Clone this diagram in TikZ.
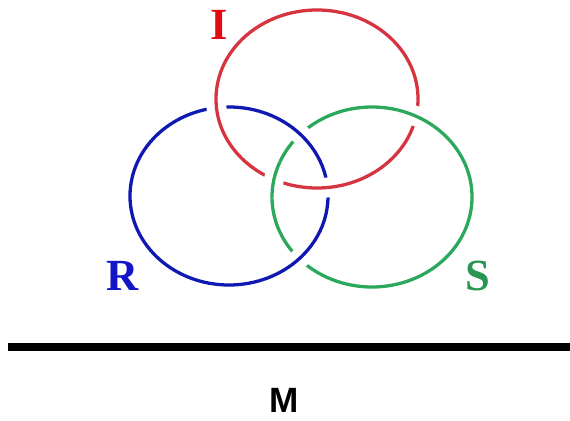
\documentclass[tikz,border=0pt]{standalone}
\usepackage{fontspec}
\setmainfont{Liberation Serif}
\newfontfamily\labelsans{Liberation Sans}
\definecolor{ringred}{RGB}{214,52,64}
\definecolor{ringblue}{RGB}{16,24,178}
\definecolor{ringgreen}{RGB}{44,168,92}
\definecolor{tagred}{RGB}{228,10,20}
\definecolor{tagblue}{RGB}{20,20,200}
\definecolor{taggreen}{RGB}{40,150,80}

\begin{document}
\begin{tikzpicture}[x=0.03cm, y=0.03cm,
    ring/.style={line width=2.8pt},
    over/.style={preaction={draw=white, line width=17pt}},
    tag/.style={font=\bfseries\fontsize{38}{40}\selectfont}]
  \useasboundingbox (0,0) rectangle (570,420);

  % ----- Borromean rings -----
  % green ring (lies under blue)
  \draw[ring, ringgreen] (372,223) ellipse [x radius=100, y radius=90];
  % blue ring over green
  \draw[ring, ringblue, over] (229,224) ellipse [x radius=99, y radius=89];
  % red ring over blue
  \draw[ring, ringred, over] (317,321) ellipse [x radius=101, y radius=89];
  % green passes back over red
  \foreach \a/\b in {157/181, 52/75}
    \draw[ring, ringgreen, over] (372,223) ++(\a:100 and 90)
      arc[start angle=\a, end angle=\b, x radius=100, y radius=90];

  % ring labels
  \node[tag, text=tagred] (lblI) at (219,395) {I};
  \node[tag, text=tagblue] (lblR) at (123,144) {R};
  \node[tag, text=taggreen] (lblS) at (478,144) {S};

  % ----- base line -----
  \draw[line width=6pt] (8,73) -- (570,73);
  \node[inner sep=0pt, font=\labelsans\bfseries\fontsize{30}{32}\selectfont] (lblM) at (284,20) {M};
\end{tikzpicture}
\end{document}
